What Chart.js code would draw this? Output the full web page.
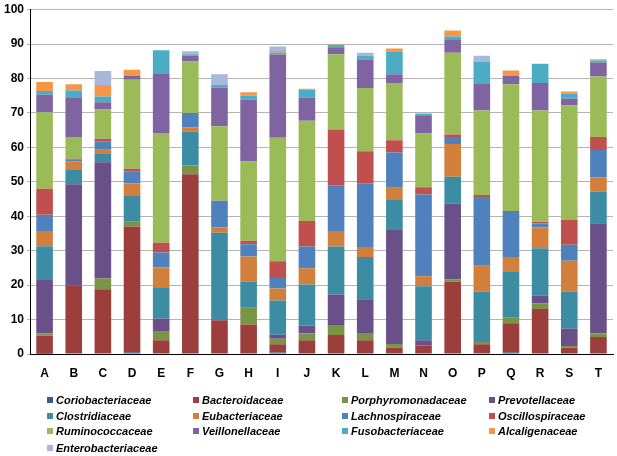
<!DOCTYPE html>
<html>
<head>
<meta charset="utf-8">
<script src="https://cdn.jsdelivr.net/npm/chart.js@4.4.1/dist/chart.umd.min.js"></script>
<style>
    body { margin: 0; background: #fff; }
    #wrap { position: relative; width: 617px; height: 456px; font-family: "Liberation Sans", Arial, sans-serif; }
    #chart-box { position: absolute; left: 0; top: 0; width: 617px; height: 385px; }
    #legend { position: absolute; left: 0; top: 0; width: 617px; height: 456px; pointer-events: none; }
    .legend-item { position: absolute; font-size: 11px; font-style: italic; font-weight: bold; color: #000; white-space: nowrap; line-height: 14px; }
    .legend-item span { display: inline-block; width: 6px; height: 6px; margin-right: 3px; vertical-align: 1px; }
</style>
</head>
<body>
<div id="wrap">
    <div id="chart-box"><canvas id="bar-chart"></canvas></div>
    <div id="legend"></div>
</div>
<script>
// samples A..T
const CATEGORIES = ['A', 'B', 'C', 'D', 'E', 'F', 'G', 'H', 'I', 'J', 'K', 'L', 'M', 'N', 'O', 'P', 'Q', 'R', 'S', 'T'];
const Y_TICKS = [0, 10, 20, 30, 40, 50, 60, 70, 80, 90, 100];

const FAMILIES = ['Coriobacteriaceae', 'Bacteroidaceae', 'Porphyromonadaceae', 'Prevotellaceae',
    'Clostridiaceae', 'Eubacteriaceae', 'Lachnospiraceae', 'Oscillospiraceae',
    'Ruminococcaceae', 'Veillonellaceae', 'Fusobacteriaceae', 'Alcaligenaceae',
    'Enterobacteriaceae'];

const FAMILY_COLORS = ['#385d8a', '#9c3f3c', '#7a9445', '#6a5088',
    '#3c8da3', '#d17f3b', '#4f81bd', '#c0504d',
    '#9bbb59', '#8064a2', '#4bacc6', '#f79646',
    '#a7b9da'];

//                            A     B     C     D     E     F     G     H     I     J     K     L     M     N     O     P     Q     R     S     T
const coriobacteriaceae  = [ 0.1,  0,    0,    0.5,  0,    0,    0,    0,    0.4,  0,    0,    0,    0,    0,    0,    0.2,  0.5,  0,    0.3,  0  ];
const bacteroidaceae     = [ 5.2, 19.8, 18.8, 36.5,  4.0, 52.2,  9.8,  8.6,  2.4,  4.0,  5.5,  4.0,  1.8,  2.5, 21.0,  2.6,  8.4, 13.1,  1.5,  4.9];
const porphyromonadaceae = [ 0.7,  0,    3.1,  1.4,  2.7,  2.5,  0,    4.8,  1.6,  2.0,  2.7,  2.1,  1.1,  0,    0.7,  0.7,  1.6,  1.6,  0.5,  1.1];
const prevotellaceae     = [15.5, 29.5, 33.8,  0,    3.6,  0,    0,    0,    1.2,  2.3,  9.1,  9.8, 33.1,  1.5, 21.9,  0,    0,    2.2,  5.0, 32.0];
const clostridiaceae     = [ 9.8,  4.1,  2.6,  7.5,  8.9,  9.8, 25.4,  7.6,  9.9, 11.9, 13.9, 12.3,  8.7, 15.7,  7.9, 14.6, 13.5, 13.8, 10.8,  9.2];
const eubacteriaceae     = [ 4.4,  2.5,  1.0,  3.6,  5.9,  1.3,  1.6,  7.3,  3.5,  4.7,  4.5,  2.9,  3.6,  2.9,  9.5,  7.5,  4.2,  6.0,  9.0,  4.1];
const lachnospiraceae    = [ 4.7,  0.5,  2.5,  3.4,  4.4,  4.2,  7.7,  3.6,  3.1,  6.3, 13.3, 18.5, 10.2, 23.7,  2.0, 20.0, 13.3,  1.2,  4.6,  7.9];
const oscillospiraceae   = [ 7.6,  0.3,  0.7,  0.9,  2.8,  0,    0,    1.0,  4.8,  7.4, 16.2,  9.3,  3.6,  2.1,  0.7,  0.6,  0,    0.5,  7.2,  3.8];
const ruminococcaceae    = [22.2,  6.3,  8.5, 25.8, 31.9, 14.9, 21.6, 23.0, 35.9, 29.1, 21.8, 18.3, 16.6, 15.6, 23.8, 24.5, 36.8, 32.3, 33.3, 17.6];
const veillonellaceae    = [ 5.1, 11.3,  2.1,  1.1, 17.1,  1.7, 11.3, 17.9, 24.1,  6.8,  2.1,  8.3,  2.5,  5.1,  3.9,  7.7,  2.5,  8.0,  1.9,  4.0];
const fusobacteriaceae   = [ 1.1,  2.2,  1.7,  0,    6.9,  0.4,  0.7,  1.2,  0.6,  2.2,  0.6,  1.0,  6.5,  0.7,  0.8,  6.5,  0,    5.6,  1.5,  0.6];
const alcaligenaceae     = [ 2.6,  1.8,  3.3,  1.8,  0,    0.3,  0,    1.0,  0.5,  0.3,  0.2,  0,    1.0,  0,    1.7,  0,    1.5,  0,    0.6,  0.4];
const enterobacteriaceae = [ 0,    0,    4.1,  0,    0,    0.6,  3.1,  0,    1.3,  0,    0,    1.0,  0,    0,    0,    1.7,  0,    0,    0,    0  ];

const SERIES = [coriobacteriaceae, bacteroidaceae, porphyromonadaceae, prevotellaceae,
    clostridiaceae, eubacteriaceae, lachnospiraceae, oscillospiraceae,
    ruminococcaceae, veillonellaceae, fusobacteriaceae, alcaligenaceae,
    enterobacteriaceae];

function buildDatasets() {
    let datasets = [];
    for (let i = 0; i < FAMILIES.length; i++) {
        datasets.push({
            label: FAMILIES[i],
            data: SERIES[i],
            backgroundColor: FAMILY_COLORS[i],
            borderWidth: 0,
            barPercentage: 0.57,
            categoryPercentage: 1.0
        });
    }
    return datasets;
}

function buildLegend() {
    let legend = document.getElementById('legend');
    let colX = [47, 193, 342, 489];
    let rowY = [393, 409, 424, 441];
    for (let i = 0; i < FAMILIES.length; i++) {
        let item = document.createElement('div');
        item.className = 'legend-item';
        item.style.left = colX[i % 4] + 'px';
        item.style.top = rowY[Math.floor(i / 4)] + 'px';

        let swatch = document.createElement('span');
        swatch.style.background = FAMILY_COLORS[i];
        item.appendChild(swatch);
        item.appendChild(document.createTextNode(FAMILIES[i]));

        legend.appendChild(item);
    }
}

const tickFont = { family: '"Liberation Sans", Arial, sans-serif', size: 12, weight: 'bold' };

const config = {
    type: 'bar',
    data: {
        labels: CATEGORIES,
        datasets: buildDatasets()
    },
    options: {
        responsive: false,
        animation: false,
        maintainAspectRatio: false,
        layout: { padding: { left: 0, right: 4, top: 0, bottom: 0 } },
        plugins: {
            legend: { display: false },
            tooltip: { enabled: false }
        },
        scales: {
            x: {
                stacked: true,
                grid: { display: false, drawTicks: false },
                border: { color: '#000', width: 1 },
                ticks: { color: '#000', font: tickFont, padding: 12 },
                afterFit: (scale) => { scale.height = 31; }
            },
            y: {
                stacked: true,
                min: 0,
                max: 100,
                afterBuildTicks: (scale) => { scale.ticks = Y_TICKS.map(v => ({ value: v })); },
                grid: { color: '#b4b4b4', lineWidth: 1, tickLength: 3 },
                border: { color: '#000', width: 1 },
                ticks: { color: '#000', font: { family: tickFont.family, size: 12, weight: 'bold', lineHeight: 1.1 }, padding: 3 },
                afterFit: (scale) => { scale.width = 30; }
            }
        }
    }
};

let canvas = document.getElementById('bar-chart');
canvas.width = 617;
canvas.height = 385;
let barChart = new Chart(canvas, config);
buildLegend();
</script>
</body>
</html>
